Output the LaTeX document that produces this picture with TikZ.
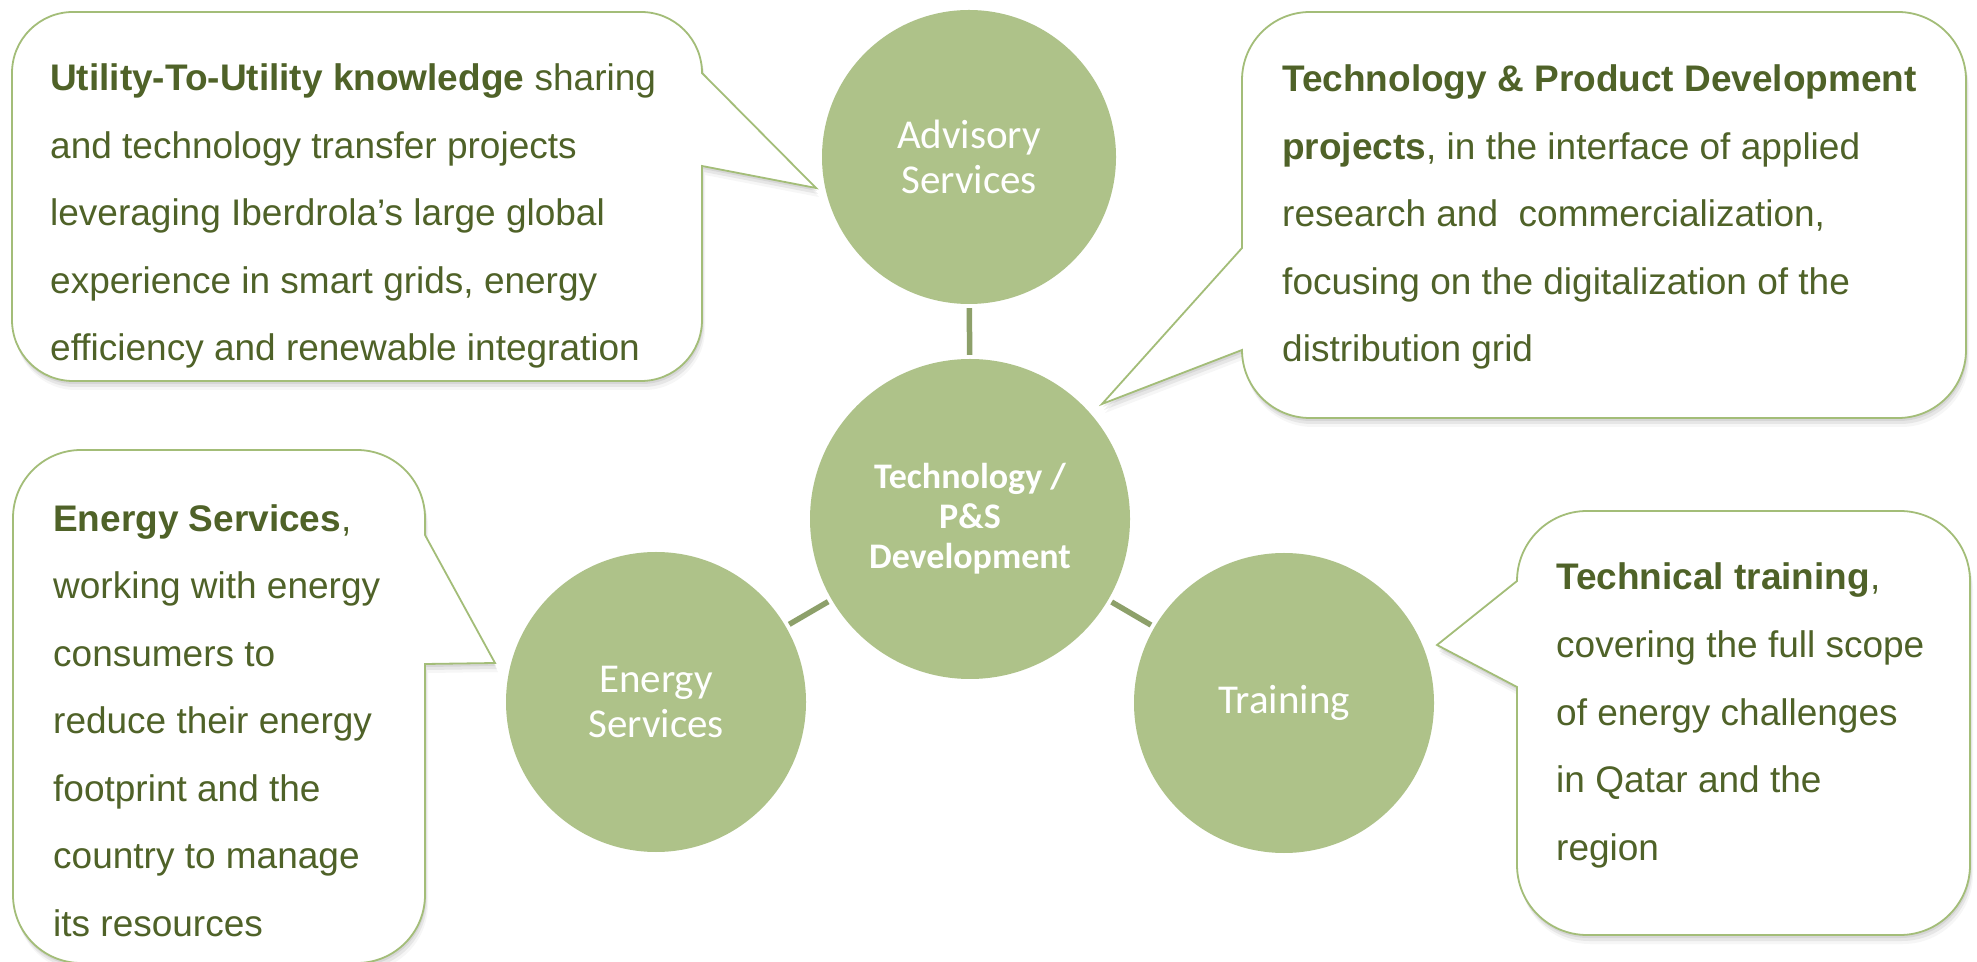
\documentclass[tikz,border=0pt]{standalone}
\usepackage{fontspec}
\setmainfont{Liberation Sans}
\newfontfamily\calfont{Carlito}
\definecolor{leaf}{HTML}{AEC289}
\definecolor{stem}{HTML}{8DA06A}
\definecolor{ink}{HTML}{4F6228}
\definecolor{rim}{HTML}{A3BD78}
\begin{document}
\begin{tikzpicture}[x=1pt,y=1pt,
  hub/.style={circle, fill=leaf, inner sep=0pt, text=white, align=center},
  hubtext/.style={font=\calfont\fontsize{41}{45}\selectfont},
  link/.style={draw=stem, line width=5.5pt, shorten <=4pt, shorten >=4pt},
  bubble/.style={fill=white, draw=rim, line width=1.8pt, line join=miter,
    preaction={fill=black!60, opacity=0.12, transform canvas={xshift=1pt, yshift=-3pt}},
    preaction={fill=black!60, opacity=0.10, transform canvas={xshift=2pt, yshift=-6pt}},
    preaction={fill=black!60, opacity=0.06, transform canvas={xshift=3pt, yshift=-9pt}}},
  % multi-line nodes: the base anchor sits on the last line
  blurb/.style={anchor=base west, inner sep=0pt, align=left, text=ink,
    font=\fontsize{37}{67.5}\selectfont},
]
\fill[white] (0,0) rectangle (1977,961);
\useasboundingbox (0,0) rectangle (1977,961);

% the four service circles around the hub
\node[hub, hubtext, minimum size=294pt] (adv) at (969,804) {Advisory\\Services};
\node[hub, minimum size=320pt, font=\calfont\bfseries\fontsize{36}{40}\selectfont]
  (ctr) at (970,442) {Technology /\\P\&S\\Development};
\node[hub, hubtext, minimum size=300pt] (nrg) at (656,259) {Energy\\Services};
\node[hub, hubtext, minimum size=300pt] (trn) at (1284,258) {Training};

\draw[link] (adv) -- (ctr);
\draw[link] (nrg) -- (ctr);
\draw[link] (trn) -- (ctr);

% speech bubbles
\path[bubble] (73,949) -- (641,949) arc[start angle=90, end angle=0, radius=61pt]
  -- (816,773) -- (702,795) -- (702,641) arc[start angle=0, end angle=-90, radius=61pt]
  -- (73,580) arc[start angle=270, end angle=180, radius=61pt]
  -- (12,888) arc[start angle=180, end angle=90, radius=61pt] -- cycle;

\path[bubble] (1310,949) -- (1898,949) arc[start angle=90, end angle=0, radius=68pt]
  -- (1966,611) arc[start angle=0, end angle=-90, radius=68pt]
  -- (1310,543) arc[start angle=270, end angle=180, radius=68pt]
  -- (1102,557) -- (1242,713)
  -- (1242,881) arc[start angle=180, end angle=90, radius=68pt] -- cycle;

\path[bubble] (81,511) -- (357,511) arc[start angle=90, end angle=0, radius=68pt]
  -- (425,426) -- (495,298) -- (425,297)
  -- (425,66) arc[start angle=0, end angle=-90, radius=68pt]
  -- (81,-2) arc[start angle=270, end angle=180, radius=68pt]
  -- (13,443) arc[start angle=180, end angle=90, radius=68pt] -- cycle;

\path[bubble] (1587,450) -- (1900,450) arc[start angle=90, end angle=0, radius=70pt]
  -- (1970,96) arc[start angle=0, end angle=-90, radius=70pt]
  -- (1587,26) arc[start angle=270, end angle=180, radius=70pt]
  -- (1517,274) -- (1437,316)
  -- (1517,380) arc[start angle=180, end angle=90, radius=70pt] -- cycle;

% bubble texts
\node[blurb] (advtext) at (50,600) {\textbf{Utility-To-Utility knowledge} sharing\\
  and technology transfer projects\\
  leveraging Iberdrola’s large global\\
  experience in smart grids, energy\\
  efficiency and renewable integration};

\node[blurb] (ctrtext) at (1282,599) {\textbf{Technology \& Product Development}\\
  \textbf{projects}, in the interface of applied\\
  research and\ \ commercialization,\\
  focusing on the digitalization of the\\
  distribution grid};

\node[blurb] (nrgtext) at (53,25) {\textbf{Energy Services},\\
  working with energy\\
  consumers to\\
  reduce their energy\\
  footprint and the\\
  country to manage\\
  its resources};

\node[blurb] (trntext) at (1556,101) {\textbf{Technical training},\\
  covering the full scope\\
  of energy challenges\\
  in Qatar and the\\
  region};
\end{tikzpicture}
\end{document}
